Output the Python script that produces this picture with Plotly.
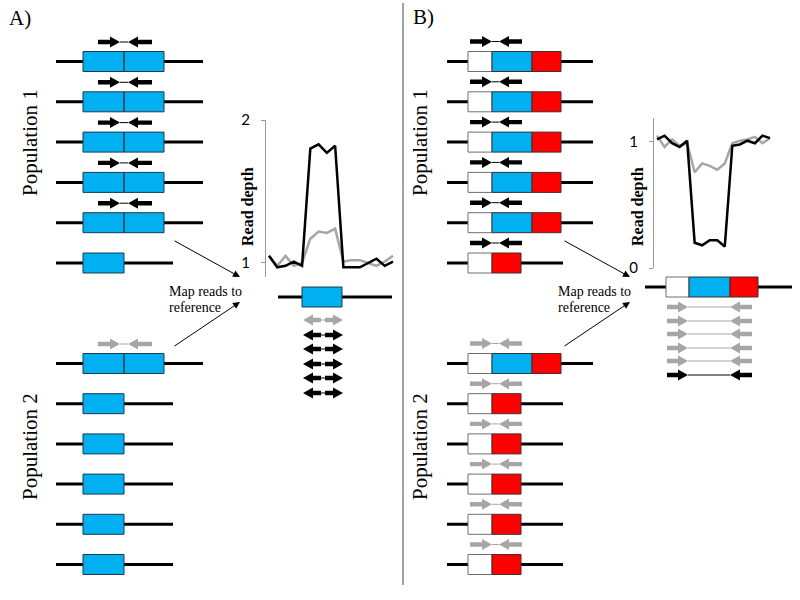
import plotly.graph_objects as go

# ---------------- data ----------------
depth_A_pop1 = [1.05, 0.97, 0.98, 1.01, 0.98, 1.80, 1.83, 1.77, 1.82, 0.97, 0.97, 0.97, 1.00, 1.03, 0.98, 1.01]
depth_A_pop2 = [1.05, 0.98, 1.05, 0.98, 1.00, 1.17, 1.22, 1.21, 1.24, 1.01, 1.02, 1.02, 1.00, 0.98, 1.01, 1.05]
depth_B_pop1 = [1.02, 1.05, 0.99, 0.96, 1.01, 0.20, 0.18, 0.22, 0.22, 0.17, 0.97, 0.98, 1.01, 0.99, 1.05, 1.03]
depth_B_pop2 = [1.05, 0.96, 1.02, 0.97, 0.99, 0.76, 0.83, 0.81, 0.78, 0.83, 0.99, 1.01, 1.02, 1.04, 0.99, 1.03]
window_index = list(range(16))
ticks_A = [1, 2]
ticks_B = [0, 1]

A_pop1_genomes = ["dup", "dup", "dup", "dup", "dup", "single"]
A_pop2_genomes = ["dup", "single", "single", "single", "single", "single"]
A_pop1_reads = ["black", "black", "black", "black", "black", None]
A_pop2_reads = ["gray", None, None, None, None, None]
A_mapped_reads = ["gray", "black", "black", "black", "black", "black"]

B_pop1_genomes = ["full", "full", "full", "full", "full", "del"]
B_pop2_genomes = ["full", "del", "del", "del", "del", "del"]
B_pop1_reads = ["black", "black", "black", "black", "black", "black"]
B_pop2_reads = ["gray", "gray", "gray", "gray", "gray", "gray"]
B_mapped_reads = ["gray", "gray", "gray", "gray", "gray", "black"]

panel_labels = ["A)", "B)"]
population_labels = ["Population 1", "Population 2"]
map_text = ["Map reads to", "reference"]
axis_title = "Read depth"

# ---------------- layout constants ----------------
BLUE = "#00B0F0"
RED = "#FF0000"
GRAY = "#A6A6A6"
COLORS = {"black": "#000000", "gray": GRAY}
SERIF = "Liberation Serif"

ROWS_POP1 = [61.5, 101.8, 142.1, 182.4, 222.7, 263.0]
ROWS_POP2 = [363.5, 403.7, 443.9, 484.1, 524.3, 564.5]
MAPPED_A_Y = [320, 335, 349, 364, 378, 393]
MAPPED_B_Y = [307, 321, 334, 348, 361, 375]

shapes = []


def hline(x0, x1, y, color="black", w=3):
    shapes.append(dict(type="line", xref="x", yref="y", x0=x0, x1=x1, y0=y, y1=y,
                       line=dict(color=color, width=w)))


def vline(x, y0, y1, color="black", w=1):
    shapes.append(dict(type="line", xref="x", yref="y", x0=x, x1=x, y0=y0, y1=y1,
                       line=dict(color=color, width=w)))


def rect(x0, x1, yc, fill, outline="#333333"):
    shapes.append(dict(type="rect", xref="x", yref="y", x0=x0, x1=x1, y0=yc - 10, y1=yc + 10,
                       fillcolor=fill, line=dict(color=outline, width=1)))


def arrow(x_tail, x_tip, y, color):
    d = 1 if x_tip > x_tail else -1
    hl, hw, sw = 10, 5.5, 2.2
    xb = x_tip - d * hl
    path = (f"M {x_tail},{y - sw} L {xb},{y - sw} L {xb},{y - hw} L {x_tip},{y} "
            f"L {xb},{y + hw} L {xb},{y + sw} L {x_tail},{y + sw} Z")
    shapes.append(dict(type="path", xref="x", yref="y", path=path, fillcolor=color,
                       line=dict(width=0)))


def read_pair(x_start, tip_r, tip_l, x_end, y, color):
    hline(tip_r, tip_l, y, color=color, w=1)
    arrow(x_start, tip_r, y, color)
    arrow(x_end, tip_l, y, color)


def genome_A(kind, y):
    if kind == "dup":
        hline(56, 203, y)
        rect(83, 164, y, BLUE, "#1f3a4f")
        vline(124, y - 10, y + 10, "#1f3a4f", 1.5)
    else:
        hline(56, 173, y)
        rect(83, 124, y, BLUE, "#1f3a4f")


def genome_B(kind, y):
    if kind == "full":
        hline(447, 593, y)
        rect(468, 492, y, "white", "#6e6e6e")
        rect(492, 532, y, BLUE, "#333333")
        rect(532, 561, y, RED, "#4a2a2a")
    else:
        hline(447, 563, y)
        rect(468, 492, y, "white", "#6e6e6e")
        rect(492, 521, y, RED, "#4a2a2a")


# Panel A populations
for ys, kinds, reads in [(ROWS_POP1, A_pop1_genomes, A_pop1_reads),
                         (ROWS_POP2, A_pop2_genomes, A_pop2_reads)]:
    for y, k, r in zip(ys, kinds, reads):
        genome_A(k, y)
        if r:
            read_pair(98, 120, 128, 152, y - 19.5, COLORS[r])

# Panel B populations
for ys, kinds, reads in [(ROWS_POP1, B_pop1_genomes, B_pop1_reads),
                         (ROWS_POP2, B_pop2_genomes, B_pop2_reads)]:
    for y, k, r in zip(ys, kinds, reads):
        genome_B(k, y)
        if r:
            read_pair(470, 492, 499, 522, y - 20, COLORS[r])

# Reference A
hline(278, 392, 297)
rect(302, 342, 297, BLUE, "#1f3a4f")
for y, c in zip(MAPPED_A_Y, A_mapped_reads):
    col = COLORS[c]
    hline(320, 326, y, color=col, w=1)
    arrow(321, 303, y, col)
    arrow(325, 343, y, col)

# Reference B
hline(645, 792, 287)
rect(666, 689, 287, "white", "#6e6e6e")
rect(689, 730, 287, BLUE, "#333333")
rect(730, 758, 287, RED, "#4a2a2a")
for y, c in zip(MAPPED_B_Y, B_mapped_reads):
    read_pair(667, 688, 730, 752, y, COLORS[c])

# divider
vline(403, 3, 585, "#444444", 1)

annotations = []


def text(x, y, s, size, xanchor="center", angle=0, bold=False):
    annotations.append(dict(x=x, y=y, xref="x", yref="y", text=f"<b>{s}</b>" if bold else s,
                            showarrow=False, xanchor=xanchor, yanchor="middle", textangle=angle,
                            font=dict(family=SERIF, size=size, color="black")))


def map_arrow(x0, y0, x1, y1):
    annotations.append(dict(x=x1, y=y1, ax=x0, ay=y0, xref="x", yref="y", axref="x", ayref="y",
                            text="", showarrow=True, arrowhead=2, arrowsize=1.4, arrowwidth=1,
                            arrowcolor="black"))


text(7, 18, panel_labels[0], 21, xanchor="left")
text(411, 17, panel_labels[1], 21, xanchor="left")
for px in (30, 420):
    text(px, 143, population_labels[0], 21, angle=-90)
    text(px, 447, population_labels[1], 21, angle=-90)
for tx, ax0 in [(167, 173), (556, 563)]:
    text(tx, 291, map_text[0], 14, xanchor="left")
    text(tx, 307, map_text[1], 14, xanchor="left")
    map_arrow(ax0, 240, ax0 + 67, 277)
    map_arrow(ax0, 347, ax0 + 67, 302)
text(248, 207, axis_title, 16, angle=-90, bold=True)
text(638, 207, axis_title, 16, angle=-90, bold=True)

fig = go.Figure()
fig.add_trace(go.Scatter(x=window_index, y=depth_A_pop2, xaxis="x2", yaxis="y2", mode="lines",
                         line=dict(color=GRAY, width=2.5), hoverinfo="skip"))
fig.add_trace(go.Scatter(x=window_index, y=depth_A_pop1, xaxis="x2", yaxis="y2", mode="lines",
                         line=dict(color="black", width=2.5), hoverinfo="skip"))
fig.add_trace(go.Scatter(x=window_index, y=depth_B_pop2, xaxis="x3", yaxis="y3", mode="lines",
                         line=dict(color=GRAY, width=2.5), hoverinfo="skip"))
fig.add_trace(go.Scatter(x=window_index, y=depth_B_pop1, xaxis="x3", yaxis="y3", mode="lines",
                         line=dict(color="black", width=2.5), hoverinfo="skip"))

W, H = 800, 600
yax_common = dict(showline=True, linecolor="#999999", linewidth=1, ticks="outside", ticklen=4,
                  tickcolor="#999999", showgrid=False, zeroline=False, ticklabelstandoff=8,
                  automargin=False,
                  tickfont=dict(family="Lato", size=15, color="black"))
fig.update_layout(
    width=W, height=H, autosize=False,
    margin=dict(l=0, r=0, t=0, b=0, pad=0, autoexpand=False),
    paper_bgcolor="white", plot_bgcolor="white", showlegend=False,
    xaxis=dict(domain=[0, 1], range=[0, W], visible=False, automargin=False),
    yaxis=dict(domain=[0, 1], range=[H, 0], visible=False, automargin=False),
    xaxis2=dict(domain=[266 / W, 395 / W], range=[-0.36, 15.24], visible=False, anchor="y2"),
    yaxis2=dict(domain=[1 - 277 / H, 1 - 120 / H], range=[0.902, 2.0], anchor="x2",
                tickvals=ticks_A, **yax_common),
    xaxis3=dict(domain=[654 / W, 772 / W], range=[-0.4, 15.27], visible=False, anchor="y3"),
    yaxis3=dict(domain=[1 - 268 / H, 1 - 118 / H], range=[0, 1.19], anchor="x3",
                tickvals=ticks_B, **yax_common),
    shapes=shapes,
    annotations=annotations,
)
fig.write_html("out.html", config={"displayModeBar": False},
               post_script="document.body.style.margin='0';document.body.style.padding='0';")
